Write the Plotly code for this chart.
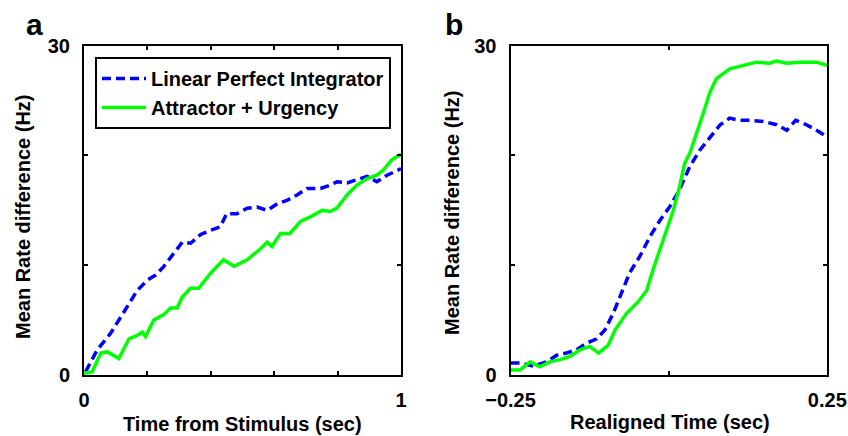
import plotly.graph_objects as go

# Panel a: time from stimulus (sec)
a_lpi_t = [0.005, 0.042, 0.084, 0.11, 0.137, 0.168, 0.2, 0.226, 0.252, 0.284, 0.31, 0.336, 0.368, 0.4,
           0.43, 0.45, 0.483, 0.515, 0.546, 0.578, 0.61, 0.64, 0.672, 0.704, 0.746, 0.777, 0.798, 0.83,
           0.861, 0.893, 0.924, 0.956, 0.993, 1.0]
a_lpi_y = [0.3, 2.3, 3.8, 5.0, 6.2, 7.7, 8.65, 9.1, 9.9, 11.1, 12.1, 12.0, 12.8, 13.2,
           13.5, 14.7, 14.7, 15.2, 15.3, 15.0, 15.6, 15.9, 16.4, 17.0, 17.0, 17.3, 17.6, 17.5,
           17.8, 18.1, 17.6, 18.2, 18.7, 18.8]
a_att_t = [0.0, 0.026, 0.053, 0.074, 0.11, 0.142, 0.168, 0.184, 0.194, 0.22, 0.252, 0.273, 0.294, 0.31,
           0.336, 0.362, 0.4, 0.44, 0.473, 0.515, 0.557, 0.578, 0.593, 0.62, 0.65, 0.683, 0.714,
           0.751, 0.777, 0.798, 0.83, 0.861, 0.893, 0.924, 0.945, 0.971, 0.993, 1.0]
a_att_y = [0.15, 0.3, 2.0, 2.1, 1.5, 3.3, 3.6, 3.9, 3.5, 5.0, 5.5, 6.1, 6.1, 7.1,
           7.9, 7.9, 9.3, 10.5, 9.9, 10.5, 11.5, 12.1, 11.7, 12.9, 12.9, 14.0, 14.4,
           15.0, 14.9, 15.2, 16.4, 17.3, 17.9, 18.2, 18.7, 19.6, 20.0, 20.1]

# Panel b: realigned time (sec)
b_lpi_t = [-0.25, -0.235, -0.214, -0.193, -0.177, -0.162, -0.146, -0.13, -0.114, -0.101, -0.088, -0.075,
           -0.062, -0.046, -0.03, -0.014, 0.001, 0.017, 0.033, 0.049, 0.065, 0.081, 0.096, 0.112,
           0.128, 0.149, 0.17, 0.186, 0.2, 0.217, 0.233, 0.25]
b_lpi_y = [1.1, 1.1, 0.8, 1.2, 1.8, 2.0, 2.3, 2.9, 3.3, 4.1, 5.6, 7.4,
           9.3, 10.8, 12.6, 14.1, 15.3, 16.9, 19.0, 20.5, 21.7, 22.8, 23.4, 23.2,
           23.2, 23.1, 22.8, 22.3, 23.2, 22.8, 22.3, 21.7]
b_att_t = [-0.25, -0.235, -0.219, -0.204, -0.188, -0.172, -0.156, -0.14, -0.125, -0.111, -0.096, -0.085,
           -0.067, -0.048, -0.035, -0.025, -0.009, 0.007, 0.017, 0.025, 0.033, 0.044, 0.054, 0.065,
           0.075, 0.096, 0.117, 0.138, 0.159, 0.17, 0.186, 0.207, 0.233, 0.25]
b_att_y = [0.45, 0.45, 1.2, 0.75, 1.2, 1.4, 1.7, 2.3, 2.6, 2.0, 2.7, 4.1,
           5.6, 6.7, 7.7, 9.6, 12.3, 15.0, 17.2, 19.3, 20.2, 22.0, 23.8, 25.8,
           27.0, 27.9, 28.2, 28.5, 28.4, 28.6, 28.4, 28.5, 28.5, 28.2]

names = ["Linear Perfect Integrator", "Attractor + Urgency"]
a_xticks = [0, 0.2, 0.4, 0.6, 0.8, 1]
a_xtext = ["0", "", "", "", "", "1"]
b_xticks = [-0.25, 0, 0.25]
b_xtext = ["\u22120.25", "", "0.25"]
yticks = [0, 10, 20, 30]
ytext = ["0", "", "", "30"]

BLUE = "#0000FF"
GREEN = "#00FF00"
W, H = 848, 436
FS = 20

fig = go.Figure()
fig.add_trace(go.Scatter(x=a_lpi_t, y=a_lpi_y, mode="lines", name=names[0],
                         line=dict(color=BLUE, width=3.5, dash="9px,5px"), xaxis="x", yaxis="y"))
fig.add_trace(go.Scatter(x=a_att_t, y=a_att_y, mode="lines", name=names[1],
                         line=dict(color=GREEN, width=3.5), xaxis="x", yaxis="y"))
fig.add_trace(go.Scatter(x=b_lpi_t, y=b_lpi_y, mode="lines", name=names[0], showlegend=False,
                         line=dict(color=BLUE, width=3.5, dash="9px,5px"), xaxis="x2", yaxis="y2"))
fig.add_trace(go.Scatter(x=b_att_t, y=b_att_y, mode="lines", name=names[1], showlegend=False,
                         line=dict(color=GREEN, width=3.5), xaxis="x2", yaxis="y2"))

ydom = [1 - 375 / H, 1 - 45.7 / H]
common_axis = dict(showline=True, linewidth=2, linecolor="black", mirror="ticks", ticks="inside",
                   ticklen=4, tickwidth=2, tickcolor="black", showgrid=False, zeroline=False,
                   automargin=False, tickfont=dict(size=FS, weight="bold"))

fig.update_layout(
    width=W, height=H,
    margin=dict(l=0, r=0, t=0, b=0),
    paper_bgcolor="white", plot_bgcolor="white",
    font=dict(family="Liberation Sans, Arial, sans-serif", size=FS, color="black", weight="bold"),
    xaxis=dict(domain=[84 / W, 401 / W], range=[0, 1], tickvals=a_xticks, ticktext=a_xtext,
               ticklabelstandoff=6, anchor="y", **common_axis),
    yaxis=dict(domain=ydom, range=[0, 30], tickvals=yticks, ticktext=ytext,
               ticklabelstandoff=8, anchor="x", **common_axis),
    xaxis2=dict(domain=[510.5 / W, 827.3 / W], range=[-0.25, 0.25], tickvals=b_xticks, ticktext=b_xtext,
                ticklabelstandoff=6, anchor="y2", **common_axis),
    yaxis2=dict(domain=ydom, range=[0, 30], tickvals=yticks, ticktext=ytext,
                ticklabelstandoff=8, anchor="x2", **common_axis),
    legend=dict(x=95 / W, y=1 - 57 / H, xanchor="left", yanchor="top", bgcolor="white",
                bordercolor="black", borderwidth=2, font=dict(size=FS, weight="bold"),
                itemwidth=44, tracegroupgap=0),
    showlegend=True,
)

ann = [
    dict(text="a", x=34 / W, y=1 - 24 / H, font=dict(size=30, weight="bold")),
    dict(text="b", x=454 / W, y=1 - 24 / H, font=dict(size=30, weight="bold")),
    dict(text="Time from Stimulus (sec)", x=243 / W, y=1 - 424 / H),
    dict(text="Realigned Time (sec)", x=670 / W, y=1 - 422 / H),
    dict(text="Mean Rate difference (Hz)", x=23 / W, y=1 - 217 / H, textangle=-90),
    dict(text="Mean Rate difference (Hz)", x=452 / W, y=1 - 213 / H, textangle=-90),
]
for a in ann:
    a.update(xref="paper", yref="paper", xanchor="center", yanchor="middle", showarrow=False)
    fig.add_annotation(**a)

fig.write_html("out.html")
